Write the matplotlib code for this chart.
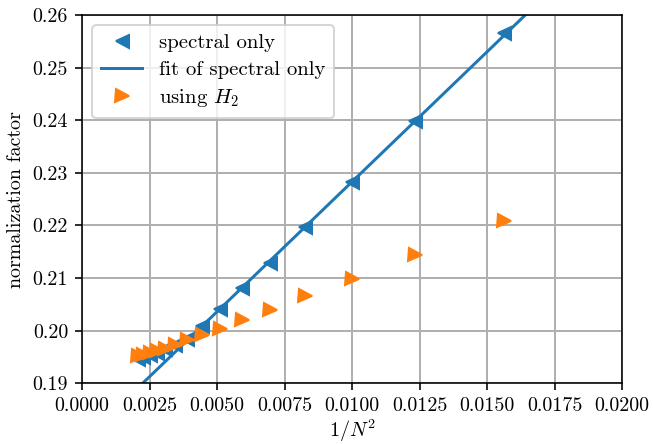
import numpy as np
import matplotlib
matplotlib.use('Agg')
import matplotlib.pyplot as plt

# 1/N^2 for N = 8 .. 22
inv_N2 = [0.015625, 0.012346, 0.010000, 0.008264, 0.006944, 0.005917, 0.005102,
          0.004444, 0.003906, 0.003460, 0.003086, 0.002770, 0.002500, 0.002268, 0.002066]
spectral_only = [0.2566, 0.2399, 0.2282, 0.2197, 0.2129, 0.2081, 0.2041,
                 0.2009, 0.1984, 0.1973, 0.1965, 0.1958, 0.1953, 0.1949, 0.1946]
using_H2 = [0.2209, 0.2143, 0.2098, 0.2065, 0.2039, 0.2020, 0.2004,
            0.1992, 0.1982, 0.1973, 0.1966, 0.1961, 0.1957, 0.1954, 0.1951]
fit_slope = 4.94
fit_intercept = 0.1789
fit_x = [0.0, 0.02]

plt.rcParams['font.family'] = 'serif'
plt.rcParams['font.serif'] = ['cmr10']
plt.rcParams['mathtext.fontset'] = 'cm'
plt.rcParams['axes.formatter.use_mathtext'] = True
plt.rcParams['font.size'] = 10

fig = plt.figure(figsize=(653 / 144, 444 / 144), dpi=144)
ax = fig.add_axes([0.1256, 0.1368, 0.827, 0.8294])

ax.plot(inv_N2, spectral_only, '<', color='C0', ms=6.5, label='spectral only', zorder=3)
fx = np.array(fit_x)
ax.plot(fx, fit_slope * fx + fit_intercept, '-', color='C0', lw=1.5,
        label='fit of spectral only', zorder=2)
ax.plot(inv_N2, using_H2, '>', color='C1', ms=6.5, label='using $H_2$', zorder=4)

ax.set_xlim(0, 0.02)
ax.set_ylim(0.19, 0.26)
ax.set_xticks(np.arange(0, 0.02001, 0.0025))
ax.xaxis.set_major_formatter(plt.FormatStrFormatter('%.4f'))
ax.yaxis.set_major_formatter(plt.FormatStrFormatter('%.2f'))
ax.grid(True, color='#b0b0b0', lw=1.0)
ax.set_axisbelow(True)
ax.set_xlabel('$1/N^2$', labelpad=1)
ax.set_ylabel('normalization factor')
ax.legend(loc='upper left', prop={'size': 10.4}, labelspacing=0.4)

fig.savefig('out.png', dpi=144)
